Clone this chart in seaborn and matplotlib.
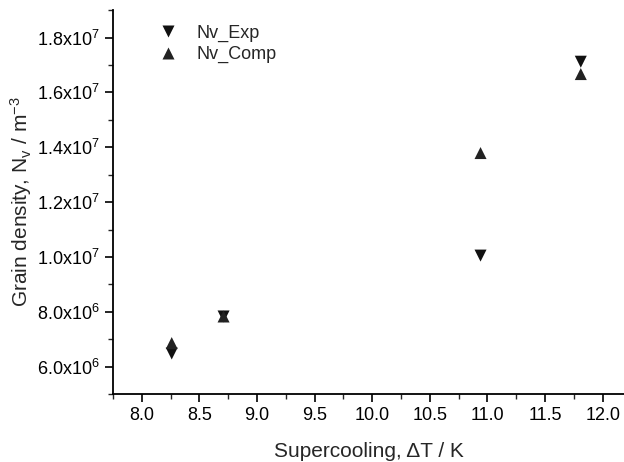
import seaborn as sns
import pandas as pd
import matplotlib.pyplot as plt
from matplotlib.ticker import MultipleLocator, FuncFormatter

# data
supercooling = [8.26, 8.71, 10.94, 11.81]
nv_exp = [6.48e6, 7.83e6, 1.005e7, 1.712e7]
nv_comp = [6.86e6, 7.83e6, 1.379e7, 1.667e7]

df = pd.DataFrame({
    "dT": supercooling * 2,
    "Nv": nv_exp + nv_comp,
    "serie": ["Nv_Exp"] * 4 + ["Nv_Comp"] * 4,
})

sns.set_style("ticks")
plt.rcParams["font.family"] = ["Liberation Sans", "DejaVu Sans"]
plt.rcParams["mathtext.fontset"] = "custom"
plt.rcParams["mathtext.rm"] = "Liberation Sans"
plt.rcParams["mathtext.it"] = "Liberation Sans"
plt.rcParams["mathtext.default"] = "regular"

fig = plt.figure(figsize=(6.24, 4.62), dpi=100)
ax = fig.add_axes([0.181, 0.147, 0.819, 0.831])

sns.scatterplot(data=df, x="dT", y="Nv", hue="serie", style="serie",
                markers={"Nv_Exp": "v", "Nv_Comp": "^"},
                palette={"Nv_Exp": "#111111", "Nv_Comp": "#222222"},
                s=75, edgecolor="none", ax=ax)

ax.set_xlim(7.75, 12.185)
ax.set_ylim(5.0e6, 1.9e7)
ax.xaxis.set_minor_locator(MultipleLocator(0.25))
ax.yaxis.set_minor_locator(MultipleLocator(1e6))
ax.set_xticks([8.0, 8.5, 9.0, 9.5, 10.0, 10.5, 11.0, 11.5, 12.0])
ax.set_yticks([6e6, 8e6, 1e7, 1.2e7, 1.4e7, 1.6e7, 1.8e7])


def sci(v, pos):
    e = 6 if v < 1e7 else 7
    return "%.1fx10$^{%d}$" % (v / 10 ** e, e)


ax.yaxis.set_major_formatter(FuncFormatter(sci))
ax.tick_params(which="major", direction="out", length=6, width=1.2, labelsize=13, colors="black")
ax.tick_params(which="minor", direction="out", length=3.5, width=1.0)
for s in ["left", "bottom"]:
    ax.spines[s].set_linewidth(1.3)
    ax.spines[s].set_color("black")
sns.despine(ax=ax)

ax.set_xlabel("Supercooling, ΔT / K", fontsize=15, labelpad=13)
ax.set_ylabel("Grain density, N$_v$ / m$^{-3}$", fontsize=15, labelpad=2)

ax.legend(loc="upper left", bbox_to_anchor=(0.04, 1.005), frameon=False, fontsize=13,
          handletextpad=0.6, labelspacing=0.25, markerscale=1.0)

plt.savefig("out.png", dpi=100)
plt.close()
